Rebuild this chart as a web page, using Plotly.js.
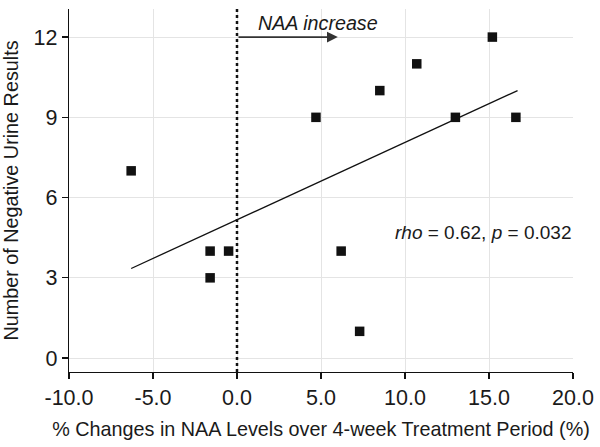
<!DOCTYPE html>
<html>
<head>
<meta charset="utf-8">
<script src="https://cdn.plot.ly/plotly-3.0.1.min.js"></script>
<style>html,body{margin:0;padding:0;background:#fff;}#chart{width:600px;height:447px;}</style>
</head>
<body>
<div id="chart"></div>
<script>
// Data
const naaChange = [-6.3, -1.6, -0.5, -1.6, 4.7, 6.2, 7.3, 8.5, 10.7, 13.0, 15.2, 16.6];
const negUrine  = [7, 4, 4, 3, 9, 4, 1, 10, 11, 9, 12, 9];
// Fitted regression line endpoints
const fitX = [-6.3, 16.7];
const fitY = [3.35, 10.0];
// Axis ticks
const xTickVals = [-10, -5, 0, 5, 10, 15, 20];
const xTickText = ['-10.0', '-5.0', '0.0', '5.0', '10.0', '15.0', '20.0'];
const yTickVals = [0, 3, 6, 9, 12];

const font = 'Liberation Sans, Arial, Helvetica, sans-serif';
const txt = '#1a1a1a';

const traces = [
  {
    x: fitX, y: fitY, mode: 'lines', type: 'scatter',
    line: {color: '#111', width: 1.3}, hoverinfo: 'skip', showlegend: false
  },
  {
    x: naaChange, y: negUrine, mode: 'markers', type: 'scatter',
    marker: {symbol: 'square', size: 9.5, color: '#111', line: {width: 0}},
    showlegend: false
  }
];

const layout = {
  width: 600, height: 447,
  margin: {l: 69, r: 27, t: 9, b: 75},
  paper_bgcolor: '#fff', plot_bgcolor: '#fff',
  font: {family: font, color: txt, size: 19},
  showlegend: false,
  xaxis: {
    range: [-10, 20],
    tickvals: xTickVals, ticktext: xTickText,
    showgrid: true, gridcolor: '#e4e4e4', gridwidth: 1,
    zeroline: false,
    showline: true, linecolor: '#111', linewidth: 1.3,
    ticks: 'outside', ticklen: 6, tickcolor: '#111', tickwidth: 1.3,
    tickfont: {family: font, size: 21.5, color: txt},
    title: {text: '% Changes in NAA Levels over 4-week Treatment Period (%)', font: {family: font, size: 19.8, color: txt}, standoff: 13}
  },
  yaxis: {
    range: [-0.52, 13.05],
    tickvals: yTickVals,
    showgrid: true, gridcolor: '#e4e4e4', gridwidth: 1,
    zeroline: false,
    showline: true, linecolor: '#111', linewidth: 1.3,
    ticks: 'outside', ticklen: 6, tickcolor: '#111', tickwidth: 1.3,
    tickfont: {family: font, size: 21.5, color: txt},
    title: {text: 'Number of Negative Urine Results', font: {family: font, size: 19.8, color: txt}, standoff: 10}
  },
  shapes: [
    {type: 'line', xref: 'x', yref: 'paper', x0: 0, x1: 0, y0: 0, y1: 1,
     line: {color: '#111', width: 2.5, dash: 'dot'}}
  ],
  annotations: [
    {x: 6, y: 12, xref: 'x', yref: 'y', ax: 0, ay: 12, axref: 'x', ayref: 'y',
     showarrow: true, arrowhead: 2, arrowsize: 1.2, arrowwidth: 1.8, arrowcolor: '#333', text: ''},
    {x: 4.8, y: 12, xref: 'x', yref: 'y', yanchor: 'bottom', yshift: 1, showarrow: false,
     text: '<i>NAA increase</i>', font: {family: font, size: 19.7, color: txt}},
    {x: 19.97, y: 4.7, xref: 'x', yref: 'y', xanchor: 'right', yanchor: 'middle', showarrow: false,
     text: '<i>rho</i> = 0.62, <i>p</i> = 0.032', font: {family: font, size: 19, color: txt}}
  ]
};

Plotly.newPlot('chart', traces, layout, {displayModeBar: false, staticPlot: true});
</script>
</body>
</html>
